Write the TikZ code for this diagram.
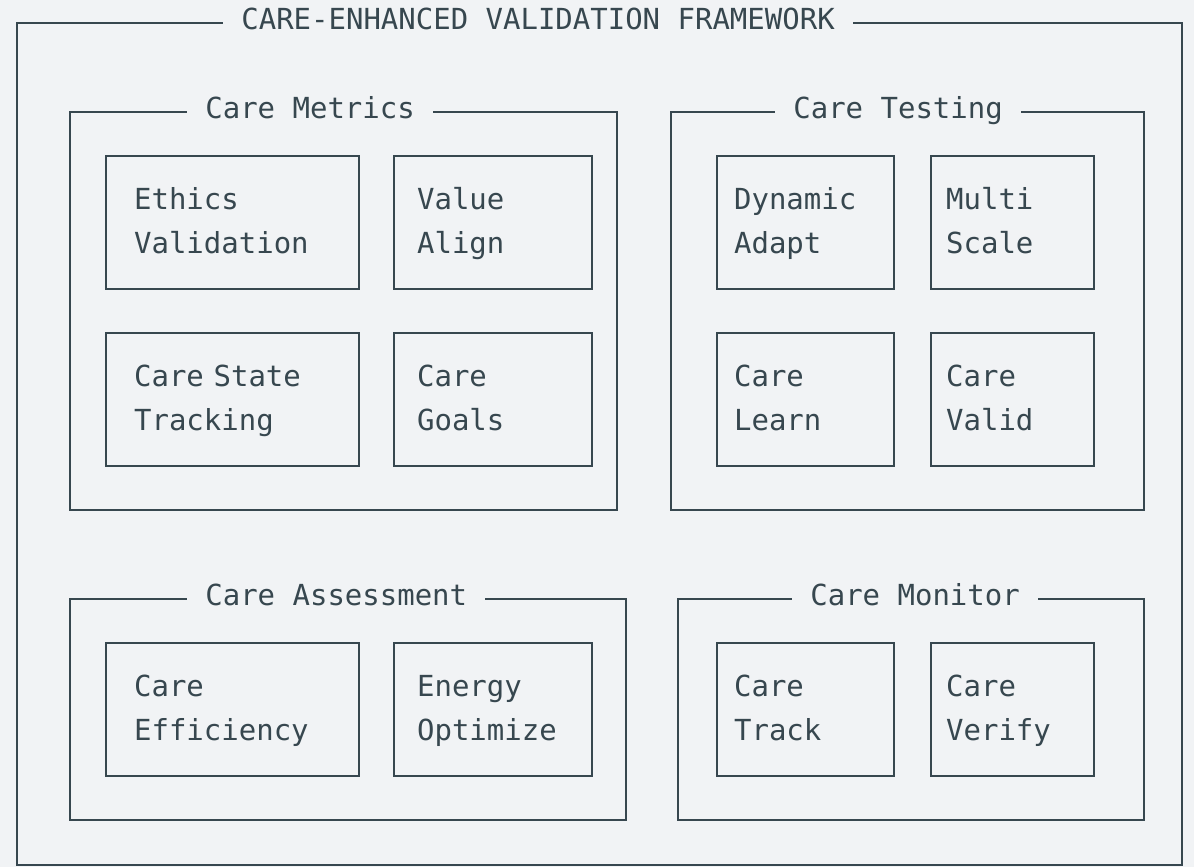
\documentclass[tikz,border=0pt]{standalone}
\usepackage{fontspec}
\setmonofont{DejaVu Sans Mono}
\definecolor{ink}{RGB}{55,71,79}
\definecolor{paper}{RGB}{241,243,245}
\tikzset{
  boxframe/.style={draw=ink, line width=1.3pt, anchor=north west, inner sep=0pt},
  cellbox/.style={boxframe, minimum height=2.66cm, inner ysep=0pt, align=left, text=ink,
    execute at begin node=\strut, execute at end node=\strut},
  heading/.style={fill=paper, text=ink, inner xsep=0.36cm, inner ysep=1pt, anchor=base west, yshift=-0.15cm}
}
\begin{document}
\begin{tikzpicture}[x=0.02cm, y=-0.02cm, font=\ttfamily\fontsize{16.5}{25.2}\selectfont]
\fill[paper] (0,0) rectangle (1194,867);
\useasboundingbox (0,0) rectangle (1194,867);

% outer frame
\node[boxframe, minimum width=23.3cm, minimum height=16.84cm] (outer) at (16,22) {};

% groups
\node[boxframe, minimum width=10.94cm, minimum height=7.96cm] (metrics) at (69,111) {};
\node[boxframe, minimum width=9.46cm, minimum height=7.96cm] (testing) at (670,111) {};
\node[boxframe, minimum width=11.12cm, minimum height=4.42cm] (assess) at (69,598) {};
\node[boxframe, minimum width=9.32cm, minimum height=4.42cm] (monitor) at (677,598) {};

% titles
\node[heading] (outertitle) at (223,22) {CARE-ENHANCED VALIDATION FRAMEWORK};
\node[heading] (metricstitle) at (187,111) {Care Metrics};
\node[heading] (testingtitle) at (775,111) {Care Testing};
\node[heading] (assesstitle) at (187,598) {Care Assessment};
\node[heading] (monitortitle) at (792,598) {Care Monitor};

% care metrics
\node[cellbox, text width=3.94cm, inner xsep=0.56cm] (ethics) at (105,155) {Ethics\\Validation};
\node[cellbox, text width=3.04cm, inner xsep=0.46cm] (value) at (393,155) {Value\\Align};
\node[cellbox, text width=3.94cm, inner xsep=0.56cm] (state) at (105,332) {Care State\\Tracking};
\node[cellbox, text width=3.04cm, inner xsep=0.46cm] (goals) at (393,332) {Care\\Goals};

% care testing
\node[cellbox, text width=2.86cm, inner xsep=0.34cm] (dynamic) at (716,155) {Dynamic\\Adapt};
\node[cellbox, text width=2.66cm, inner xsep=0.3cm] (multi) at (930,155) {Multi\\Scale};
\node[cellbox, text width=2.86cm, inner xsep=0.34cm] (learn) at (716,332) {Care\\Learn};
\node[cellbox, text width=2.66cm, inner xsep=0.3cm] (valid) at (930,332) {Care\\Valid};

% care assessment
\node[cellbox, text width=3.94cm, inner xsep=0.56cm] (efficiency) at (105,642) {Care\\Efficiency};
\node[cellbox, text width=3.04cm, inner xsep=0.46cm] (energy) at (393,642) {Energy\\Optimize};

% care monitor
\node[cellbox, text width=2.86cm, inner xsep=0.34cm] (track) at (716,642) {Care\\Track};
\node[cellbox, text width=2.66cm, inner xsep=0.3cm] (verify) at (930,642) {Care\\Verify};
\end{tikzpicture}
\end{document}
